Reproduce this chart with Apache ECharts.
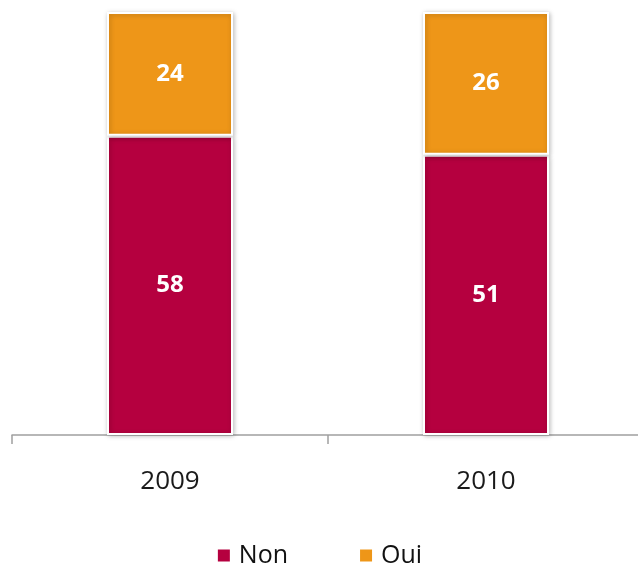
<!DOCTYPE html>
<html>
<head>
<meta charset="utf-8">
<script src="https://cdn.jsdelivr.net/npm/echarts@6/dist/echarts.min.js"></script>
<style>html,body{margin:0;padding:0;background:#fff;}#c{width:638px;height:563px;}</style>
</head>
<body>
<div id="c"></div>
<script>
var categories = ['2009', '2010'];
var nonValues = [58, 51];
var ouiValues = [24, 26];

var totals = categories.map(function (_, i) { return nonValues[i] + ouiValues[i]; });
function pct(arr) {
  return arr.map(function (v, i) { return { value: v / totals[i] * 100, raw: v }; });
}

var chart = echarts.init(document.getElementById('c'));
var labelCfg = {
  show: true,
  position: 'inside',
  color: '#fff',
  fontSize: 24,
  fontWeight: 'bold',
  fontFamily: 'Open Sans',
  formatter: function (p) { return p.data.raw; }
};
var itemBase = {
  borderColor: '#fff',
  borderWidth: 2,
  shadowBlur: 5,
  shadowColor: 'rgba(0,0,0,0.25)',
  shadowOffsetX: 1,
  shadowOffsetY: 1
};
chart.setOption({
  animation: false,
  grid: { left: 12, top: 12, width: 632, bottom: 128, outerBoundsMode: 'none', containLabel: false },
  legend: {
    top: 538,
    left: 'center',
    itemWidth: 14,
    itemHeight: 14,
    itemGap: 70,
    icon: 'rect',
    textStyle: { fontSize: 25, color: '#111', fontFamily: 'Open Sans', padding: [0, 0, 0, 3] },
    data: ['Non', 'Oui']
  },
  xAxis: {
    type: 'category',
    data: categories,
    axisLine: { lineStyle: { color: '#a0a0a0', width: 1.5 } },
    axisTick: { show: true, length: 9, lineStyle: { color: '#a0a0a0', width: 1.5 } },
    axisLabel: { fontSize: 26, color: '#1a1a1a', margin: 34, fontFamily: 'Open Sans' }
  },
  yAxis: { type: 'value', min: 0, max: 100, show: false },
  series: [
    {
      name: 'Non', type: 'bar', stack: 'a', barWidth: 126,
      data: pct(nonValues),
      itemStyle: Object.assign({ color: '#B5003F' }, itemBase),
      label: labelCfg
    },
    {
      name: 'Oui', type: 'bar', stack: 'a', barWidth: 126,
      data: pct(ouiValues),
      itemStyle: Object.assign({ color: '#EE9618' }, itemBase),
      label: labelCfg
    }
  ]
});
</script>
</body>
</html>
